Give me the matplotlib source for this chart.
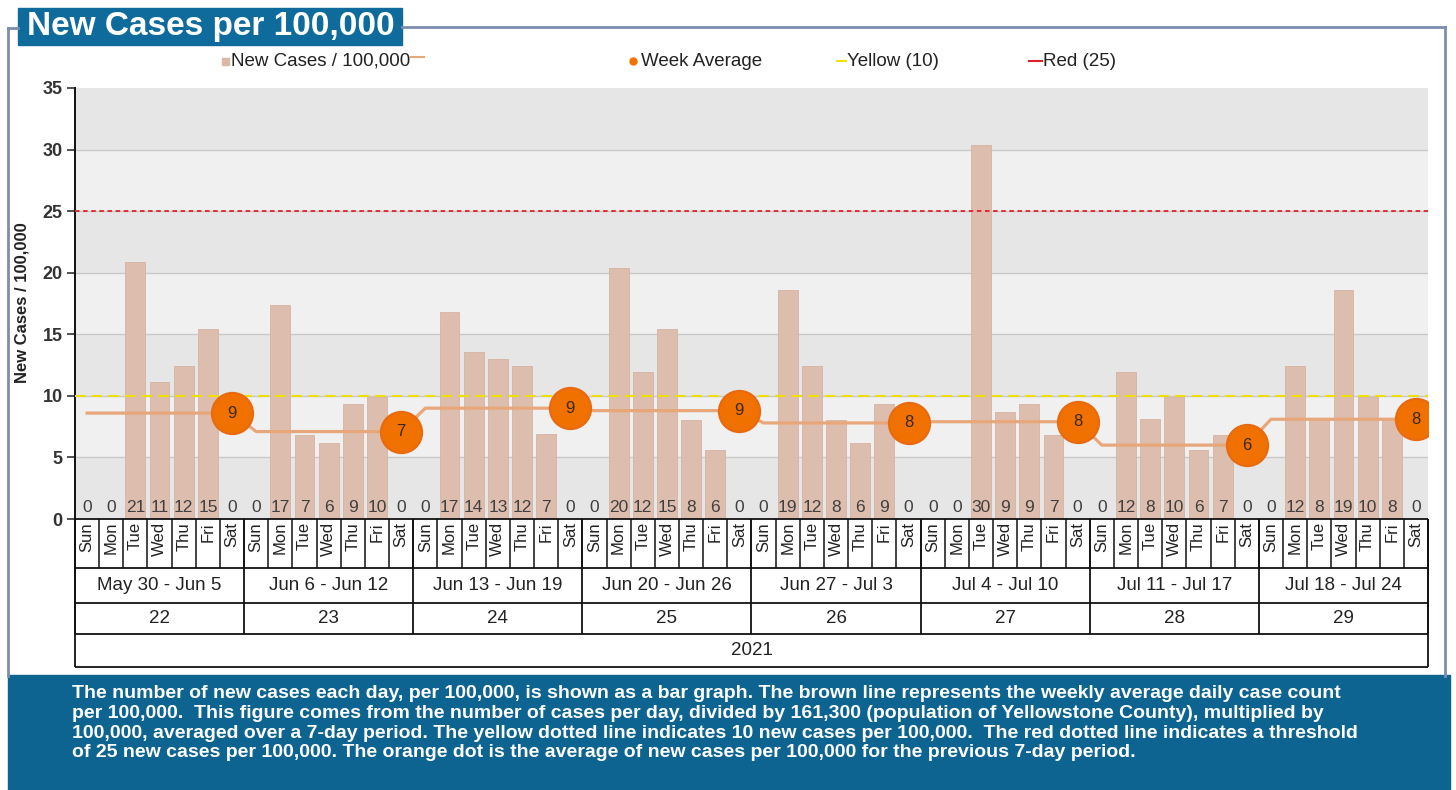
import matplotlib
matplotlib.use("Agg")
import matplotlib.pyplot as plt
import numpy as np
from matplotlib.lines import Line2D
from matplotlib.patches import Rectangle

plt.rcParams["font.family"] = ["Liberation Sans", "DejaVu Sans"]

W, H = 1456, 790

DAYS = ["Sun", "Mon", "Tue", "Wed", "Thu", "Fri", "Sat"]
WEEK_RANGES = ["May 30 - Jun 5", "Jun 6 - Jun 12", "Jun 13 - Jun 19", "Jun 20 - Jun 26",
               "Jun 27 - Jul 3", "Jul 4 - Jul 10", "Jul 11 - Jul 17", "Jul 18 - Jul 24"]
WEEK_NUMS = ["22", "23", "24", "25", "26", "27", "28", "29"]
YEAR = "2021"

# new cases per 100,000 by day, one list per week (Sun..Sat)
wk22 = [0, 0, 20.9, 11.1, 12.4, 15.4, 0]
wk23 = [0, 17.4, 6.8, 6.2, 9.3, 9.9, 0]
wk24 = [0, 16.8, 13.6, 13.0, 12.4, 6.9, 0]
wk25 = [0, 20.4, 11.9, 15.4, 8.0, 5.6, 0]
wk26 = [0, 18.6, 12.4, 8.0, 6.2, 9.3, 0]
wk27 = [0, 0, 30.4, 8.7, 9.3, 6.8, 0]
wk28 = [0, 11.9, 8.1, 9.9, 5.6, 6.8, 0]
wk29 = [0, 12.4, 8.1, 18.6, 9.9, 8.1, 0]
daily = np.array(wk22 + wk23 + wk24 + wk25 + wk26 + wk27 + wk28 + wk29)

week_avg = [8.6, 7.1, 9.0, 8.8, 7.8, 7.9, 6.0, 8.1]
YELLOW = 10
RED = 25

n_days = len(daily)
n_weeks = len(WEEK_NUMS)
x = np.arange(n_days)


def fx(px):
    return px / W


def fy(py):
    return 1 - py / H


fig = plt.figure(figsize=(W / 100, H / 100), dpi=100)
fig.patch.set_facecolor("white")

# plot area
L, R, T, B = 75, 1428, 88, 519
ax = fig.add_axes([fx(L), fy(B), fx(R - L), (B - T) / H])
ax.set_xlim(-0.5, n_days - 0.5)
ax.set_ylim(0, 35)
for i, y0 in enumerate(range(0, 35, 5)):
    ax.axhspan(y0, y0 + 5, color="#E6E6E6" if i % 2 == 0 else "#F0F0F0", zorder=0, lw=0)
for y0 in range(5, 35, 5):
    ax.axhline(y0, color="#C9C9C9", lw=1.0, zorder=0.5)

ax.bar(x, daily, width=0.82, color="#DDBDAD", edgecolor="#D6B3A2", lw=0.6, zorder=2)

ax.axhline(YELLOW, color="#EEE000", lw=1.5, ls=(0, (5, 3)), zorder=3)
ax.axhline(RED, color="#E0202A", lw=1.3, ls=(0, (2.5, 2)), zorder=3)

line_vals = np.repeat(week_avg, 7)
ax.plot(x, line_vals, color="#E8A77A", lw=2.3, zorder=4, solid_joinstyle="round")

sat_x = x[6::7]
ax.scatter(sat_x, week_avg, s=880, color="#F07000", edgecolor="#E86A10", lw=1.5, zorder=5)
for xi, v in zip(sat_x, week_avg):
    ax.text(xi, v, f"{round(v)}", ha="center", va="center", fontsize=12,
            color="#3A2A1A", zorder=6)

for xi, v in zip(x, daily):
    ax.text(xi, 0.3, f"{round(v)}", ha="center", va="bottom", fontsize=12.5,
            color="#404040", zorder=6)

ax.set_yticks(range(0, 36, 5))
ax.tick_params(axis="y", labelsize=13, length=6, width=1.2, colors="#333333", pad=3)
for lab in ax.get_yticklabels():
    lab.set_fontweight("bold")
ax.set_xticks([])
for s in ["top", "right", "bottom"]:
    ax.spines[s].set_visible(False)
ax.spines["left"].set_color("#111111")
ax.spines["left"].set_linewidth(1.4)

fig.text(fx(22), fy(303), "New Cases / 100,000", rotation=90, ha="center", va="center",
         fontsize=12, fontweight="bold", color="#222222")

# category table under the axis
TB = 667
tax = fig.add_axes([fx(L), fy(TB), fx(R - L), (TB - B) / H])
tax.set_xlim(-0.5, n_days - 0.5)
tax.set_ylim(TB - B, 0)
tax.axis("off")
r1, r2, r3 = 49, 84, 115
rh = TB - B
lc = "#111111"
tax.hlines([0, r1, r2, r3, rh], -0.5, n_days - 0.5, color=lc, lw=1.3, clip_on=False)
tax.vlines(np.arange(-0.5, n_days), 0, r1, color=lc, lw=1.1, clip_on=False)
tax.vlines(np.arange(-0.5, n_days, 7), 0, r3, color=lc, lw=1.3, clip_on=False)
tax.vlines([-0.5, n_days - 0.5], 0, rh, color=lc, lw=1.3, clip_on=False)
for xi in x:
    tax.text(xi, 3, DAYS[xi % 7], rotation=90, ha="center", va="top", fontsize=12,
             color="#222222")
for w in range(n_weeks):
    cx = w * 7 + 3
    tax.text(cx, (r1 + r2) / 2, WEEK_RANGES[w], ha="center", va="center", fontsize=13.5,
             color="#222222")
    tax.text(cx, (r2 + r3) / 2, WEEK_NUMS[w], ha="center", va="center", fontsize=13.5,
             color="#222222")
tax.text((n_days - 1) / 2, (r3 + rh) / 2, YEAR, ha="center", va="center", fontsize=13.5,
         color="#222222")

# legend
ly = fy(61)
fs_leg = 13.5
fig.add_artist(Rectangle((fx(222), fy(65)), fx(7), 7 / H, color="#D9B8A8", transform=fig.transFigure))
fig.text(fx(231), ly, "New Cases / 100,000", ha="left", va="center", fontsize=fs_leg, color="#222222")
fig.add_artist(Line2D([fx(411), fx(424)], [fy(57), fy(57)], color="#E8A77A", lw=1.5,
                      transform=fig.transFigure))
fig.add_artist(Line2D([fx(633)], [ly], marker="o", ms=5, color="#F07000", transform=fig.transFigure))
fig.text(fx(641), ly, "Week Average", ha="left", va="center", fontsize=fs_leg, color="#222222")
fig.add_artist(Line2D([fx(837), fx(846)], [ly, ly], color="#EEE000", lw=1.5, transform=fig.transFigure))
fig.text(fx(847), ly, "Yellow (10)", ha="left", va="center", fontsize=fs_leg, color="#222222")
fig.add_artist(Line2D([fx(1029), fx(1042)], [ly, ly], color="#E0202A", lw=1.5, transform=fig.transFigure))
fig.text(fx(1043), ly, "Red (25)", ha="left", va="center", fontsize=fs_leg, color="#222222")

# frame
fc = "#7C8DB2"
fig.add_artist(Line2D([fx(8), fx(8)], [fy(28), fy(676)], color=fc, lw=2, transform=fig.transFigure))
fig.add_artist(Line2D([fx(8), fx(18)], [fy(28), fy(28)], color=fc, lw=2, transform=fig.transFigure))
fig.add_artist(Line2D([fx(402), fx(1445)], [fy(27), fy(27)], color=fc, lw=2, transform=fig.transFigure))
fig.add_artist(Line2D([fx(1445), fx(1445)], [fy(27), fy(676)], color=fc, lw=2, transform=fig.transFigure))

# title
fig.add_artist(Rectangle((fx(18), fy(45)), fx(402 - 18), 37 / H, color="#0E6B9B", transform=fig.transFigure))
fig.text(fx(27), fy(27), "New Cases per 100,000", ha="left", va="center", fontsize=24,
         fontweight="bold", color="white")

# caption
fig.add_artist(Rectangle((fx(8), 0), fx(1450 - 8), (H - 675) / H, color="#0D6491", transform=fig.transFigure))
caption = [
    "The number of new cases each day, per 100,000, is shown as a bar graph. The brown line represents the weekly average daily case count",
    "per 100,000.  This figure comes from the number of cases per day, divided by 161,300 (population of Yellowstone County), multiplied by",
    "100,000, averaged over a 7-day period. The yellow dotted line indicates 10 new cases per 100,000.  The red dotted line indicates a threshold",
    "of 25 new cases per 100,000. The orange dot is the average of new cases per 100,000 for the previous 7-day period.",
]
for i, line in enumerate(caption):
    fig.text(fx(72), fy(694 + i * 19.5), line, ha="left", va="center", fontsize=14,
             color="white", fontweight="bold")

fig.savefig("out.png", dpi=100)
